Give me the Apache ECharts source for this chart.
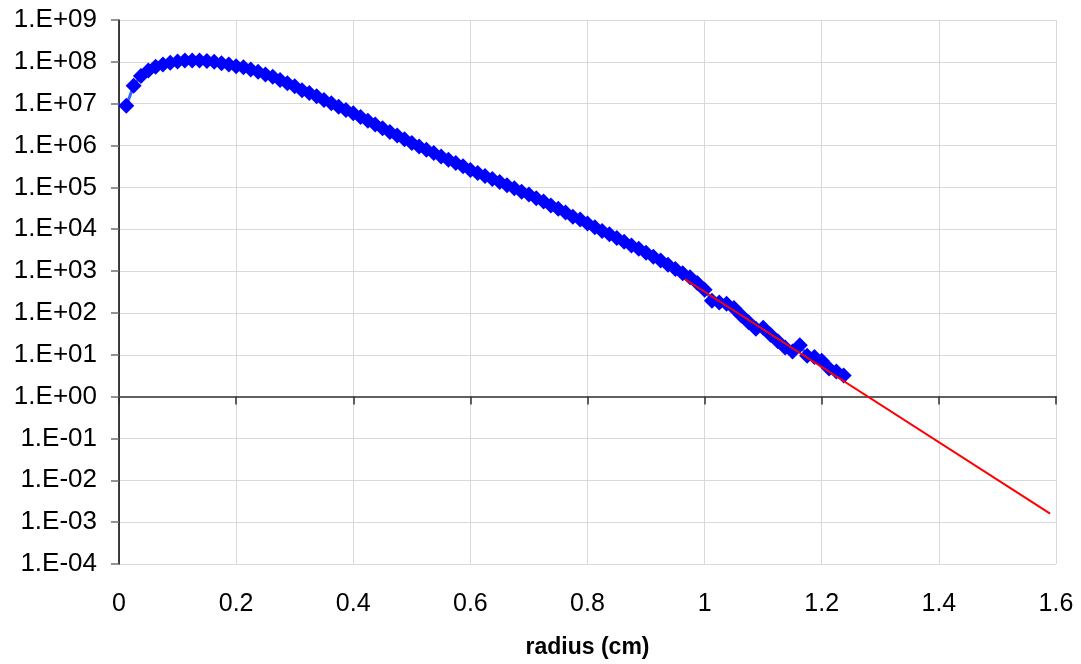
<!DOCTYPE html>
<html>
<head>
<meta charset="utf-8">
<script src="https://cdn.jsdelivr.net/npm/echarts@6/dist/echarts.min.js"></script>
<style>
html,body{margin:0;padding:0;background:#fff;}
#chart{width:1081px;height:664px;}
</style>
</head>
<body>
<div id="chart"></div>
<script>
// radius (cm)
const radius = [
  0.0125,0.025,0.0375,0.05,0.0625,0.075,0.0875,0.1,0.1125,0.125,
  0.1375,0.15,0.1625,0.175,0.1875,0.2,0.2125,0.225,0.2375,0.25,
  0.2625,0.275,0.2875,0.3,0.3125,0.325,0.3375,0.35,0.3625,0.375,
  0.3875,0.4,0.4125,0.425,0.4375,0.45,0.4625,0.475,0.4875,0.5,
  0.5125,0.525,0.5375,0.55,0.5625,0.575,0.5875,0.6,0.6125,0.625,
  0.6375,0.65,0.6625,0.675,0.6875,0.7,0.7125,0.725,0.7375,0.75,
  0.7625,0.775,0.7875,0.8,0.8125,0.825,0.8375,0.85,0.8625,0.875,
  0.8875,0.9,0.9125,0.925,0.9375,0.95,0.9625,0.975,0.9875,1.0,
  1.0125,1.025,1.0375,1.05,1.0625,1.075,1.0875,1.1,1.1125,1.125,
  1.1375,1.15,1.1625,1.175,1.1875,1.2,1.2125,1.225,1.2375
];
// measured values
const values = [
  8.9e6,2.7e7,4.6e7,6.2e7,7.6e7,8.7e7,9.5e7,1.02e8,1.07e8,1.07e8,
  1.07e8,1.05e8,1.0e8,9.3e7,8.7e7,7.9e7,7.4e7,6.6e7,5.8e7,5.0e7,
  4.4e7,3.7e7,3.1e7,2.6e7,2.1e7,1.8e7,1.5e7,1.23e7,1.02e7,8.5e6,
  7.1e6,5.9e6,4.8e6,3.9e6,3.2e6,2.6e6,2.1e6,1.74e6,1.41e6,1.15e6,
  9.5e5,7.9e5,6.6e5,5.5e5,4.6e5,3.8e5,3.2e5,2.6e5,2.2e5,1.86e5,
  1.58e5,1.35e5,1.12e5,9.5e4,7.9e4,6.8e4,5.5e4,4.6e4,3.7e4,3.1e4,
  2.5e4,2.0e4,1.7e4,1.38e4,1.12e4,9.1e3,7.6e3,6.2e3,5.0e3,4.1e3,
  3.4e3,2.75e3,2.2e3,1.78e3,1.41e3,1.12e3,8.9e2,7.1e2,5.2e2,3.6e2,
  1.95e2,1.78e2,1.66e2,1.32e2,87,60,42,44,30,21,
  15,12,17,9.5,8.9,7.2,4.7,4.0,3.2
];
// exponential trend line end points
const trendX = [0.966, 1.59];
const trendY = [646, 1.6e-3];

const xTicks = ['0','0.2','0.4','0.6','0.8','1','1.2','1.4','1.6'];
const yMin = 1e-4, yMax = 1e9;

const gridTop = 20, gridBottom = 100;
const gridH = 664 - gridTop - gridBottom;
const axisOffset = -gridH * 4 / 13; // horizontal axis crossing at 1.E+00

function fmtExp(v){
  const e = Math.round(Math.log10(v));
  const s = e < 0 ? '-' : '+';
  const a = Math.abs(e);
  return '1.E' + s + (a < 10 ? '0' + a : '' + a);
}

const chart = echarts.init(document.getElementById('chart'), null, {renderer:'canvas'});
chart.setOption({
  animation: false,
  backgroundColor: '#ffffff',
  grid: {left: 119, right: 25, top: gridTop, bottom: gridBottom, containLabel: false, outerBoundsMode: 'none'},
  xAxis: [
    {
      type: 'value', min: 0, max: 1.6, interval: 0.2, position: 'bottom',
      axisLine: {show: false},
      axisTick: {show: false},
      axisLabel: {
        margin: 28, color: '#000', fontSize: 25, fontFamily: 'Liberation Sans, Arial, sans-serif',
        formatter: function(v){ return xTicks[Math.round(v / 0.2)]; }
      },
      splitLine: {show: true, lineStyle: {color: '#d9d9d9', width: 1}},
      name: 'radius (cm)', nameLocation: 'middle', nameGap: 72,
      nameTextStyle: {color: '#000', fontSize: 23, fontWeight: 'bold', fontFamily: 'Liberation Sans, Arial, sans-serif'}
    },
    {
      type: 'value', min: 0, max: 1.6, interval: 0.2, position: 'bottom', offset: axisOffset,
      axisLine: {show: true, lineStyle: {color: '#606060', width: 2}},
      axisTick: {show: true, length: 8, lineStyle: {color: '#303030', width: 1.5}},
      axisLabel: {show: false},
      splitLine: {show: false}
    }
  ],
  yAxis: {
    type: 'log', logBase: 10, min: yMin, max: yMax, interval: 1, splitNumber: 13,
    axisLine: {show: true, lineStyle: {color: '#000', width: 1.5}},
    axisTick: {show: true, length: 8, lineStyle: {color: '#707070', width: 1.5}},
    axisLabel: {
      margin: 22, color: '#000', fontSize: 26, fontFamily: 'Liberation Sans, Arial, sans-serif',
      formatter: fmtExp
    },
    splitLine: {show: true, lineStyle: {color: '#d9d9d9', width: 1}},
    minorTick: {show: false}
  },
  series: [
    {
      type: 'line', xAxisIndex: 0,
      data: radius.map((r, i) => [r, values[i]]),
      symbol: 'diamond', symbolSize: 16,
      itemStyle: {color: '#0000ff'},
      lineStyle: {color: '#3366ff', width: 3},
      z: 3
    },
    {
      type: 'line', xAxisIndex: 0,
      data: trendX.map((r, i) => [r, trendY[i]]),
      symbol: 'none',
      lineStyle: {color: '#ff0000', width: 2},
      z: 4
    }
  ]
});
</script>
</body>
</html>
